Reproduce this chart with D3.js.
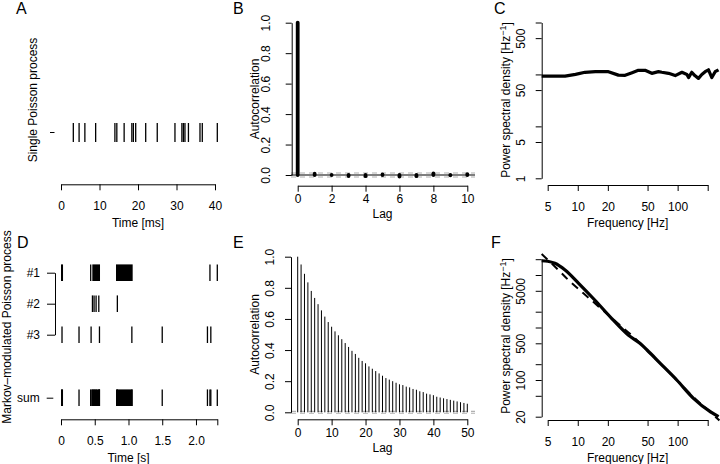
<!DOCTYPE html>
<html>
<head>
<meta charset="utf-8">
<script src="https://d3js.org/d3.v7.min.js"></script>
<style>
  body { margin: 0; background: #fff; }
  svg { display: block; font-family: 'Liberation Sans', Arial, Helvetica, sans-serif; }
  .axis path, .axis line { stroke: #000; stroke-width: 1; }
  .axis text { font-size: 12px; fill: #000; font-family: 'Liberation Sans', Arial, Helvetica, sans-serif; }
  .title { font-size: 12px; fill: #000; }
  .letter { font-size: 16px; fill: #000; }
</style>
</head>
<body>
<script>
// ---- A: single Poisson process, spike times [ms]
var spikesA = [3.2, 4.7, 6.2, 9.0, 14.0, 14.5, 16.4, 18.4, 18.8, 19.4, 22.0, 25.0,
               29.6, 31.4, 31.8, 32.2, 33.1, 36.1, 36.7, 40.6];
var ticksA = [0, 10, 20, 30, 40];

// ---- B: autocorrelation of the single process
var acfB = [1.0, 0.009, 0.0, -0.007, -0.008, 0.004, -0.010, -0.008, 0.011, -0.002, 0.006];
var ciB = 0.013;
var ticksBx = [0, 2, 4, 6, 8, 10];
var ticksBy = [0, 0.2, 0.4, 0.6, 0.8, 1.0];

// ---- C: power spectral density of the single process
var freqC = [4.35, 7.46, 9.5, 11.8, 15, 20.3, 25.5, 29.8, 35, 40.4, 47.2, 55.1, 64.3, 69.5,
             81.1, 94.6, 110.4, 123.9, 128.7, 138.5, 149.6, 161.6, 174.6, 188.6, 203.7, 220, 237.6, 256.6];
var psdC  = [93, 93, 100, 110, 113, 113, 97, 96, 108, 120, 120, 105, 113, 110,
             105, 95, 110, 100, 87, 110, 94, 84, 100, 113, 123, 87, 113, 123];
var ticksFreq = [5, 10, 20, 50, 100, 200];
var labelsFreq = [5, 10, 20, 50, 100];
var ticksCy = [1, 5, 10, 50, 100, 500, 1000];
var labelsCy = [1, 5, 50, 500];

// ---- D: Markov-modulated Poisson process, three components and sum [s]
var rowsD = ["#1", "#2", "#3"];
var spikesD1 = [0.44, 2.207, 2.316];
var burstsD1 = [[0.0, 0.03], [0.464, 0.578], [0.815, 1.062]];
var spikesD2 = [0.466, 0.49, 0.52, 0.56, 0.835];
var spikesD3 = [0.015, 0.267, 0.446, 0.57, 1.05, 1.5, 2.17, 2.22];
var ticksD = [0, 0.5, 1.0, 1.5, 2.0, 2.316];
var labelsD = ["0", "0.5", "1.0", "1.5", "2.0", ""];

// ---- E: autocorrelation of the modulated process (lags 0..50)
var acfE = [1.0, 0.95, 0.89, 0.835, 0.78, 0.735, 0.695, 0.655, 0.615, 0.58, 0.55,
            0.52, 0.495, 0.47, 0.445, 0.42, 0.395, 0.375, 0.35, 0.33, 0.315,
            0.295, 0.28, 0.265, 0.25, 0.235, 0.22, 0.21, 0.2, 0.19, 0.18,
            0.175, 0.165, 0.16, 0.15, 0.145, 0.135, 0.13, 0.12, 0.115, 0.11,
            0.1, 0.095, 0.09, 0.085, 0.08, 0.075, 0.07, 0.065, 0.06, 0.055];
var ticksEx = [0, 10, 20, 30, 40, 50];

// ---- F: power spectral density of the modulated process, estimate and theory (dashed)
var freqF = [4.35, 5, 5.9, 7.46, 10.2, 14.8, 21.8, 32, 41.9, 49.4, 67, 98, 144, 212, 257];
var psdF  = [18700, 18300, 16700, 12450, 6950, 3340, 1497, 720, 500, 373, 208, 100, 44.8, 24.9, 20];
var freqFth = [4.35, 6.4, 8.05, 11.4, 15.5, 21.1, 28.7, 37.5, 50, 70, 100, 150, 200, 262];
var psdFth  = [25100, 12450, 8040, 4480, 2690, 1607, 966, 623, 360, 190, 96, 44, 27, 17];
var ticksFy = [20, 50, 100, 200, 500, 1000, 2000, 5000, 10000, 20000];
var labelsFy = [20, 100, 500, 5000];

var svg = d3.select("body").append("svg").attr("width", 720).attr("height", 464);

function xAxis(scale, y, ticks, labels, pad, fmt) {
  var g = svg.append("g").attr("class", "axis").attr("transform", "translate(0," + y + ")")
    .call(d3.axisBottom(scale).tickValues(ticks).tickSize(6).tickSizeOuter(0).tickPadding(pad)
      .tickFormat(function(d, i) {
        if (fmt) return fmt(d, i);
        return labels.indexOf(d) >= 0 ? String(d) : "";
      }));
  return g;
}

function yAxis(scale, x, ticks, labels, off, fmt) {
  var g = svg.append("g").attr("class", "axis").attr("transform", "translate(" + x + ",0)")
    .call(d3.axisLeft(scale).tickValues(ticks).tickSize(6).tickSizeOuter(0)
      .tickFormat(function(d) {
        if (fmt) return fmt(d);
        return labels.indexOf(d) >= 0 ? String(d) : "";
      }));
  g.selectAll(".tick text")
    .attr("x", null).attr("dy", "0.35em")
    .attr("text-anchor", "middle")
    .attr("transform", "translate(" + (-off) + ",0) rotate(-90)");
  return g;
}

function title(txt, x, y, rot) {
  var t = svg.append("text").attr("class", "title").attr("text-anchor", "middle");
  if (rot) t.attr("transform", "translate(" + x + "," + y + ") rotate(-90)").attr("dy", "0.35em");
  else t.attr("x", x).attr("y", y).attr("dy", "0.35em");
  t.text(txt);
  return t;
}

function psdTitle(x, y) {
  var t = svg.append("text").attr("class", "title").attr("text-anchor", "middle")
    .attr("transform", "translate(" + x + "," + y + ") rotate(-90)").attr("dy", "0.35em");
  t.append("tspan").text("Power spectral density [Hz");
  t.append("tspan").attr("dy", "-0.45em").style("font-size", "9px").text("\u22121");
  t.append("tspan").attr("dy", "0.45em").text("]");
}

function letter(txt, x, y) {
  svg.append("text").attr("class", "letter").attr("x", x).attr("y", y).text(txt);
}

// ================= A =================
var xA = d3.scaleLinear().domain([0, 40]).range([61, 215]);
svg.append("g").selectAll("line").data(spikesA).join("line")
  .attr("x1", function(d) { return xA(d); }).attr("x2", function(d) { return xA(d); })
  .attr("y1", 123).attr("y2", 142)
  .attr("stroke", "#000").attr("stroke-width", 1.3);
svg.append("line").attr("x1", 50).attr("x2", 54.5).attr("y1", 132.5).attr("y2", 132.5)
  .attr("stroke", "#000");
xAxis(xA, 184.3, ticksA, ticksA, 11.4);
title("Time [ms]", 138, 223);
title("Single Poisson process", 33, 100, true);
letter("A", 16, 14);

// ================= B =================
var xB = d3.scaleLinear().domain([0, 10]).range([297.7, 467.3]);
var yB = d3.scaleLinear().domain([0, 1]).range([175, 22.7]);
[ciB, -ciB].forEach(function(c) {
  svg.append("line").attr("x1", 291).attr("x2", 475).attr("y1", yB(c)).attr("y2", yB(c))
    .attr("stroke", "#b0b0b0").attr("stroke-width", 1.2).attr("stroke-dasharray", "5,4");
});
svg.append("line").attr("x1", 291).attr("x2", 475).attr("y1", yB(0)).attr("y2", yB(0))
  .attr("stroke", "#000").attr("stroke-width", 1.2);
svg.append("g").selectAll("line").data(acfB).join("line")
  .attr("x1", function(d, i) { return xB(i); }).attr("x2", function(d, i) { return xB(i); })
  .attr("y1", yB(0)).attr("y2", function(d) { return yB(d); })
  .attr("stroke", "#000").attr("stroke-width", 3.8).attr("stroke-linecap", "round");
xAxis(xB, 185.7, ticksBx, ticksBx, 2.7);
yAxis(yB, 291.7, ticksBy, null, 26, function(d) { return d3.format(".1f")(d); });
title("Lag", 382.5, 214);
title("Autocorrelation", 255, 99, true);
letter("B", 233, 14);

// ================= C =================
var xF = d3.scaleLog().domain([5, 200]).range([547.7, 707.7]);
var yC = d3.scaleLog().domain([1, 1000]).range([178.3, 22.5]);
var lineC = d3.line().x(function(d) { return xF(d[0]); }).y(function(d) { return yC(d[1]); })
  .curve(d3.curveLinear);
svg.append("path").datum(d3.zip(freqC, psdC)).attr("d", lineC)
  .attr("fill", "none").attr("stroke", "#000").attr("stroke-width", 3.2)
  .attr("stroke-linejoin", "round");
xAxis(xF, 185, ticksFreq, labelsFreq, 11.4);
yAxis(yC, 541.7, ticksCy, labelsCy, 20.7);
title("Frequency [Hz]", 627.7, 223);
psdTitle(505.5, 100);
letter("C", 494, 14);

// ================= D =================
var xD = d3.scaleLinear().domain([0, 2.316]).range([61, 217.3]);
var yD = d3.scalePoint().domain(rowsD).range([272.7, 334.7]);
var ySum = 397.7;
var hD = 8.3;
function spikeRow(spikes, bursts, yc) {
  var g = svg.append("g");
  g.selectAll("line").data(spikes).join("line")
    .attr("x1", function(d) { return xD(d); }).attr("x2", function(d) { return xD(d); })
    .attr("y1", yc - hD).attr("y2", yc + hD)
    .attr("stroke", "#000").attr("stroke-width", 1.3);
  g.selectAll("rect").data(bursts).join("rect")
    .attr("x", function(d) { return xD(d[0]); })
    .attr("width", function(d) { return Math.max(1.6, xD(d[1]) - xD(d[0])); })
    .attr("y", yc - hD).attr("height", 2 * hD).attr("fill", "#000");
}
spikeRow(spikesD1, burstsD1, yD("#1"));
spikeRow(spikesD2, [], yD("#2"));
spikeRow(spikesD3, [], yD("#3"));
spikeRow(spikesD1.concat(spikesD2, spikesD3), burstsD1, ySum);

var gD = svg.append("g").attr("class", "axis").attr("transform", "translate(55,0)")
  .call(d3.axisLeft(yD).tickSize(8).tickSizeOuter(0).tickPadding(7));
var ySumScale = d3.scalePoint().domain(["sum"]).range([ySum, ySum]);
svg.append("g").attr("class", "axis").attr("transform", "translate(53.3,0)")
  .call(d3.axisLeft(ySumScale).tickSize(6.6).tickSizeOuter(0).tickPadding(7))
  .select(".domain").remove();
xAxis(xD, 419.3, ticksD, null, 11.4, function(d, i) { return labelsD[i]; });
title("Time [s]", 128.5, 457.5);
title("Markov\u2013modulated Poisson process", 6.5, 327, true);
letter("D", 17, 248);

// ================= E =================
var xE = d3.scaleLinear().domain([0, 50]).range([297.7, 467.3]);
var yE = d3.scaleLinear().domain([0, 1]).range([412.3, 256.7]);
[0.006, -0.006].forEach(function(c) {
  svg.append("line").attr("x1", 291).attr("x2", 475).attr("y1", yE(c)).attr("y2", yE(c))
    .attr("stroke", "#b0b0b0").attr("stroke-width", 1.2).attr("stroke-dasharray", "5,4");
});
svg.append("g").selectAll("line").data(acfE).join("line")
  .attr("x1", function(d, i) { return xE(i); }).attr("x2", function(d, i) { return xE(i); })
  .attr("y1", yE(0)).attr("y2", function(d) { return yE(d); })
  .attr("stroke", "#000").attr("stroke-width", 1);
xAxis(xE, 419.3, ticksEx, ticksEx, 2.7);
yAxis(yE, 291, ticksBy, null, 21, function(d) { return d3.format(".1f")(d); });
title("Lag", 382.5, 447.7);
title("Autocorrelation", 255, 334.5, true);
letter("E", 233, 248);

// ================= F =================
var yF = d3.scaleLog().domain([20, 20000]).range([416.7, 259.2]);
var lineF = d3.line().x(function(d) { return xF(d[0]); }).y(function(d) { return yF(d[1]); })
  .curve(d3.curveMonotoneX);
svg.append("path").datum(d3.zip(freqFth, psdFth)).attr("d", lineF)
  .attr("fill", "none").attr("stroke", "#000").attr("stroke-width", 2)
  .attr("stroke-dasharray", "8,6");
svg.append("path").datum(d3.zip(freqF, psdF)).attr("d", lineF)
  .attr("fill", "none").attr("stroke", "#000").attr("stroke-width", 3.2)
  .attr("stroke-linejoin", "round");
xAxis(xF, 420, ticksFreq, labelsFreq, 11.4);
yAxis(yF, 541.7, ticksFy, labelsFy, 20.7);
title("Frequency [Hz]", 627.7, 457.5);
psdTitle(505.5, 336);
letter("F", 491, 248);
</script>
</body>
</html>
